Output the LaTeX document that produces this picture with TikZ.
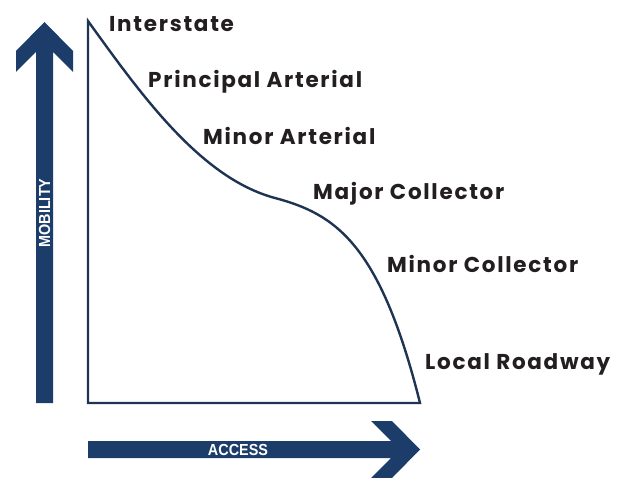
\documentclass[tikz,border=0pt]{standalone}
\usepackage{fontspec}
\setmainfont{Poppins}
\newfontfamily\classfont{Poppins}[LetterSpace=8]
\newfontfamily\axisfont{Liberation Sans}[FakeStretch=0.9]
\usepackage{tikz}
\usetikzlibrary{positioning}
\usepackage{xcolor}
\definecolor{roadnavy}{HTML}{1C3D6A}
\definecolor{curvenavy}{HTML}{1F3452}
\definecolor{labelgray}{HTML}{231F20}

\tikzset{
  classlabel/.style={anchor=base west, inner sep=0pt, text=labelgray,
    font=\classfont\fontsize{21.5}{23}\selectfont\bfseries},
  axislabel/.style={inner sep=0pt, text=white,
    font=\axisfont\fontsize{16}{17}\selectfont\bfseries}
}

\begin{document}
\begin{tikzpicture}[x=1pt, y=-1pt]
  \useasboundingbox (0,0) rectangle (628,478);

  % Mobility arrow (up)
  \fill[roadnavy]
    (36,403) -- (36,52) -- (16,72) -- (16,51) -- (44.5,22) --
    (73,51) -- (73,72) -- (53,52) -- (53,403) -- cycle;
  \node[axislabel, rotate=90] (mobility) at (44.5,213) {MOBILITY};

  % Access arrow (right)
  \fill[roadnavy]
    (88,441) -- (391,441) -- (371,421) -- (392,421) -- (420,449.5) --
    (392,478) -- (371,478) -- (391,458) -- (88,458) -- cycle;
  \node[axislabel] (access) at (238,449.5) {ACCESS};

  % Classification curve
  \draw[curvenavy, line width=2.4pt, line join=miter]
    (88,403) -- (88,21)
    .. controls (140,93) and (200,178) .. (275,198)
    .. controls (335,214) and (380,243) .. (420,403)
    -- cycle;

  % Labels
  \node[classlabel] (interstate) at (109,32)  {Interstate};
  \node[classlabel] (principal)  at (148,88)  {Principal Arterial};
  \node[classlabel] (minorart)   at (203,145) {Minor Arterial};
  \node[classlabel] (majorcol)   at (313,200) {Major Collector};
  \node[classlabel] (minorcol)   at (387,272) {Minor Collector};
  \node[classlabel] (local)      at (425,369) {Local Roadway};
\end{tikzpicture}
\end{document}
